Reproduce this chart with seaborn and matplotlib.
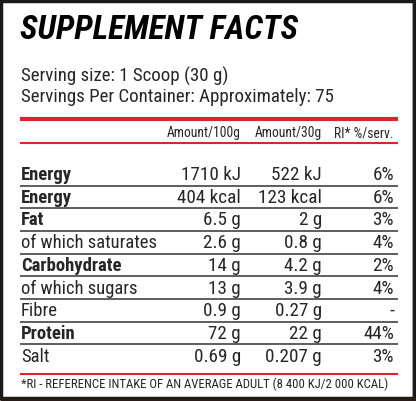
import matplotlib
matplotlib.use("Agg")
import matplotlib.pyplot as plt
import seaborn as sns

# Table content
title = "SUPPLEMENT FACTS"
serving_lines = ["Serving size: 1 Scoop (30 g)",
                 "Servings Per Container: Approximately: 75"]
col_headers = ["Amount/100g", "Amount/30g", "RI* %/serv."]
nutrients = ["Energy", "Energy", "Fat", "of which saturates", "Carbohydrate",
             "of which sugars", "Fibre", "Protein", "Salt"]
is_bold = [True, True, True, False, True, False, False, True, False]
per_100g = ["1710 kJ", "404 kcal", "6.5 g", "2.6 g", "14 g", "13 g", "0.9 g", "72 g", "0.69 g"]
per_30g = ["522 kJ", "123 kcal", "2 g", "0.8 g", "4.2 g", "3.9 g", "0.27 g", "22 g", "0.207 g"]
ri_pct = ["6%", "6%", "3%", "4%", "2%", "4%", "-", "44%", "3%"]
footnote = "*RI - REFERENCE INTAKE OF AN AVERAGE ADULT (8 400 KJ/2 000 KCAL)"

sns.set_style("white")
plt.rcParams['font.family'] = ['Roboto Condensed', 'DejaVu Sans']

red = "#d9262c"
W, H = 416, 401
fig = plt.figure(figsize=(W / 100, H / 100), dpi=100)
ax = fig.add_axes([0, 0, 1, 1])
ax.set_xlim(0, W)
ax.set_ylim(H, 0)
ax.axis("off")

# outer frame, heavier on right/bottom
ax.add_patch(plt.Rectangle((1, 1), W - 3.5, H - 4, fill=False, lw=2.5, ec="#1a1a1a"))
ax.vlines(W - 2, 0, H, color="#1a1a1a", lw=2.5)
ax.hlines(H - 2, 0, W, color="#2a1a14", lw=2.5)

ax.text(20, 39, title, fontsize=24, fontweight="bold", fontstyle="italic",
        va="baseline", color="black")
for i, line in enumerate(serving_lines):
    ax.text(21, 81.5 + i * 20.5, line, fontsize=13.6, va="baseline")

left, right = 20, 398
ax.hlines(119, left, right, color=red, lw=3)
col_x = [241, 322, 394]
for x, h in zip(col_x, col_headers):
    ax.text(x, 137, h, fontsize=9.8, ha="right", va="baseline")
ax.hlines(142.5, left, right, color=red, lw=1.5)

pitch = 22.7
first_line = 185.5
for i, name in enumerate(nutrients):
    base = first_line + i * pitch - 5.5
    ax.text(21, base, name, fontsize=13.4, va="baseline",
            fontweight="bold" if is_bold[i] else "normal")
    for x, v in zip(col_x, [per_100g[i], per_30g[i], ri_pct[i]]):
        ax.text(x, base, v, fontsize=13.8, ha="right", va="baseline")
    if i < len(nutrients) - 1:
        ax.hlines(first_line + i * pitch, left, right, color="#333333", lw=1.1)

ax.hlines(374, left, right, color=red, lw=1.5)
ax.text(21, 388, footnote, fontsize=9.15, va="baseline")

fig.savefig("out.png", dpi=100)
